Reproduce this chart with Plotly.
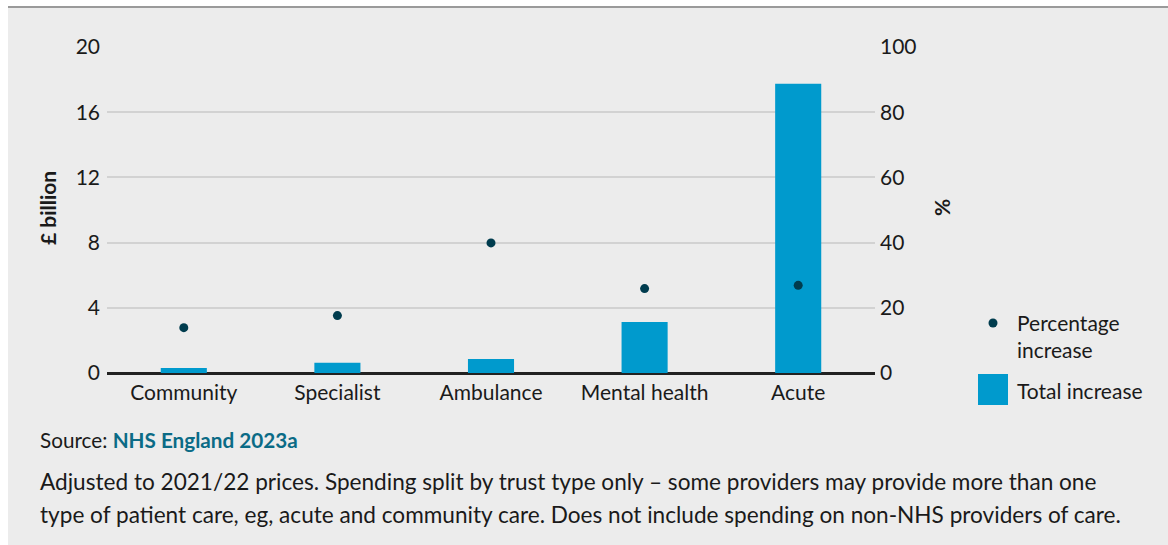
import plotly.graph_objects as go

# Provider types and their spending growth
categories = ["Community", "Specialist", "Ambulance", "Mental health", "Acute"]
total_increase_bn = [0.3, 0.63, 0.86, 3.13, 17.75]      # £ billion
percentage_increase = [13.9, 17.6, 39.9, 25.9, 26.9]     # %

left_ticks = [0, 4, 8, 12, 16, 20]
right_ticks = [0, 20, 40, 60, 80, 100]

W, H = 1168, 545
BAR_BLUE = "#009acd"
DOT_DARK = "#003c4e"
TEXT = "#1a1a1a"
FONT = "Lato"


def px(x):
    return x / W


def py(y):
    return 1 - y / H


fig = go.Figure()

fig.add_trace(go.Bar(
    x=categories, y=total_increase_bn, name="Total increase",
    marker=dict(color=BAR_BLUE, line=dict(width=0)), width=0.3,
    yaxis="y", showlegend=False,
))
fig.add_trace(go.Scatter(
    x=categories, y=percentage_increase, name="Percentage increase",
    mode="markers", marker=dict(color=DOT_DARK, size=9),
    yaxis="y2", showlegend=False,
))

axis_font = dict(family=FONT, size=21, color=TEXT)

fig.update_layout(
    width=W, height=H,
    margin=dict(l=0, r=0, t=0, b=0, autoexpand=False),
    paper_bgcolor="white",
    plot_bgcolor="rgba(0,0,0,0)",
    font=dict(family=FONT, color=TEXT),
    xaxis=dict(
        domain=[px(107), px(875)], automargin=False,
        tickfont=axis_font, showgrid=False, ticks="",
        showline=False, ticklabelstandoff=5,
    ),
    yaxis=dict(
        domain=[py(373), py(47)], automargin=False,
        range=[0, 20], tickvals=left_ticks,
        tickfont=axis_font, showgrid=True, gridcolor="#d2d2d2", gridwidth=2,
        zeroline=True, zerolinecolor="#222222", zerolinewidth=3,
        ticks="", ticklabelstandoff=6,
    ),
    yaxis2=dict(
        overlaying="y", side="right", automargin=False,
        range=[0, 100], tickvals=right_ticks,
        tickfont=axis_font, showgrid=False, zeroline=False,
        ticks="", ticklabelstandoff=4,
    ),
    bargap=0.7,
)

# Panel background and top rule
fig.add_shape(type="rect", xref="paper", yref="paper",
              x0=px(8), x1=1, y0=0, y1=py(8),
              fillcolor="#ececec", line=dict(width=0), layer="below")
fig.add_shape(type="line", xref="paper", yref="paper",
              x0=px(8), x1=1, y0=py(7), y1=py(7),
              line=dict(color="#9a9a9a", width=2), layer="below")

# Axis titles
fig.add_annotation(text="<b>£ billion</b>", xref="paper", yref="paper",
                   x=px(47), y=py(208), xanchor="center", yanchor="middle",
                   textangle=-90, showarrow=False,
                   font=dict(family=FONT, size=21, color=TEXT))
fig.add_annotation(text="<b>%</b>", xref="paper", yref="paper",
                   x=px(941), y=py(208), xanchor="center", yanchor="middle",
                   textangle=-90, showarrow=False,
                   font=dict(family=FONT, size=21, color=TEXT))

# Legend
fig.add_shape(type="circle", xref="paper", yref="paper",
              x0=px(988.5), x1=px(997.5), y0=py(327.5), y1=py(318.5),
              fillcolor=DOT_DARK, line=dict(width=0))
fig.add_annotation(text="Percentage<br>increase", xref="paper", yref="paper",
                   x=px(1015), y=py(336), xanchor="left", yanchor="middle",
                   align="left", showarrow=False,
                   font=dict(family=FONT, size=21, color=TEXT))
fig.add_shape(type="rect", xref="paper", yref="paper",
              x0=px(978), x1=px(1008), y0=py(405), y1=py(374),
              fillcolor=BAR_BLUE, line=dict(width=0))
fig.add_annotation(text="Total increase", xref="paper", yref="paper",
                   x=px(1015), y=py(390), xanchor="left", yanchor="middle",
                   showarrow=False, font=dict(family=FONT, size=21, color=TEXT))

# Source and notes
fig.add_annotation(
    text="Source: <b><span style='color:#0b6b86'>NHS England 2023a</span></b>",
    xref="paper", yref="paper", x=px(38), y=py(440),
    xanchor="left", yanchor="middle", showarrow=False,
    font=dict(family=FONT, size=20.7, color=TEXT))
fig.add_annotation(
    text="Adjusted to 2021/22 prices. Spending split by trust type only – some providers may provide more than one",
    xref="paper", yref="paper", x=px(38), y=py(481),
    xanchor="left", yanchor="middle", showarrow=False,
    font=dict(family=FONT, size=22.6, color=TEXT))
fig.add_annotation(
    text="type of patient care, eg, acute and community care. Does not include spending on non-NHS providers of care.",
    xref="paper", yref="paper", x=px(38), y=py(514),
    xanchor="left", yanchor="middle", showarrow=False,
    font=dict(family=FONT, size=22.6, color=TEXT))

# Let the figure fill the page edge to edge
fig.write_html("out.html", post_script="document.body.style.margin='0';")
